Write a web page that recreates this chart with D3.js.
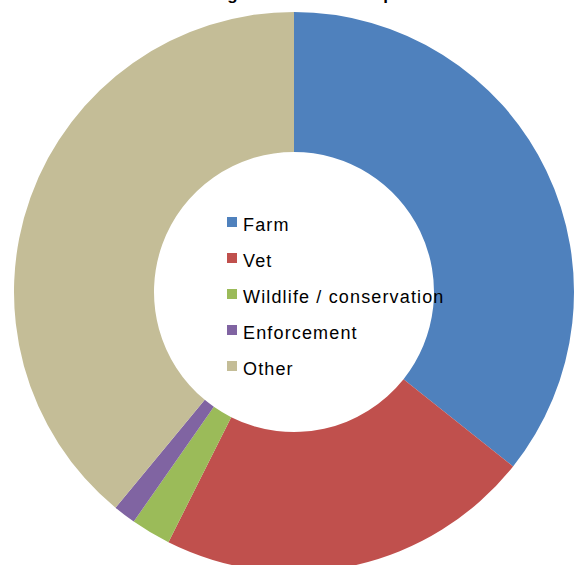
<!DOCTYPE html>
<html>
<head>
<meta charset="utf-8">
<script src="https://cdn.jsdelivr.net/npm/d3@7"></script>
<style>
  body { margin: 0; background: #ffffff; }
  svg { display: block; }
</style>
</head>
<body>
<div id="chart"></div>
<script>
// sector shares (percent)
var sectors = ['Farm', 'Vet', 'Wildlife / conservation', 'Enforcement', 'Other'];
var shares  = [35.7, 21.7, 2.3, 1.3, 39.0];
var colors  = ['#4F81BD', '#C0504D', '#9BBB59', '#8064A2', '#C4BD97'];
var title   = 'Working sector of the sample';

var w = 578;
var h = 565;

var dataset = sectors.map(function(s, i) {
  return { sector: s, value: shares[i] };
});

drawDoughnut(dataset);

function drawDoughnut(dataset) {

  var cx     = 294;
  var cy     = 292;
  var outerR = 280;
  var innerR = 140;

  var svg = d3.select('#chart')
              .append('svg')
              .attr('width', w)
              .attr('height', h);

  // title sits mostly above the frame, only descenders show
  svg.append('text')
     .attr('x', 170)
     .attr('y', 0)
     .style('font-family', 'Liberation Sans, Arial, sans-serif')
     .style('font-weight', 'bold')
     .style('font-size', '17px')
     .text(title);

  var color = d3.scaleOrdinal()
                .domain(sectors)
                .range(colors);

  var pie = d3.pie()
              .sort(null)
              .value(function(d) { return d.value });

  var arc = d3.arc()
              .innerRadius(innerR)
              .outerRadius(outerR);

  svg.append('g')
     .attr('transform', 'translate(' + cx + ',' + cy + ')')
     .selectAll('path')
     .data(pie(dataset))
     .enter()
     .append('path')
     .attr('d', arc)
     .attr('fill', function(d) { return color(d.data.sector) });

  var legend = svg.append('g')
                  .attr('transform', 'translate(227,231)');

  var rows = legend.selectAll('g')
                   .data(sectors)
                   .enter()
                   .append('g')
                   .attr('transform', function(d, i) { return 'translate(0,' + (i * 36) + ')' });

  rows.append('rect')
      .attr('x', 0)
      .attr('y', -14)
      .attr('width', 10)
      .attr('height', 10)
      .attr('fill', function(d) { return color(d) });

  rows.append('text')
      .attr('x', 16)
      .attr('y', 0)
      .style('font-family', 'Liberation Sans, Arial, sans-serif')
      .style('font-size', '18px')
      .style('letter-spacing', '1.15px')
      .style('fill', '#000')
      .text(function(d) { return d });
}
</script>
</body>
</html>
